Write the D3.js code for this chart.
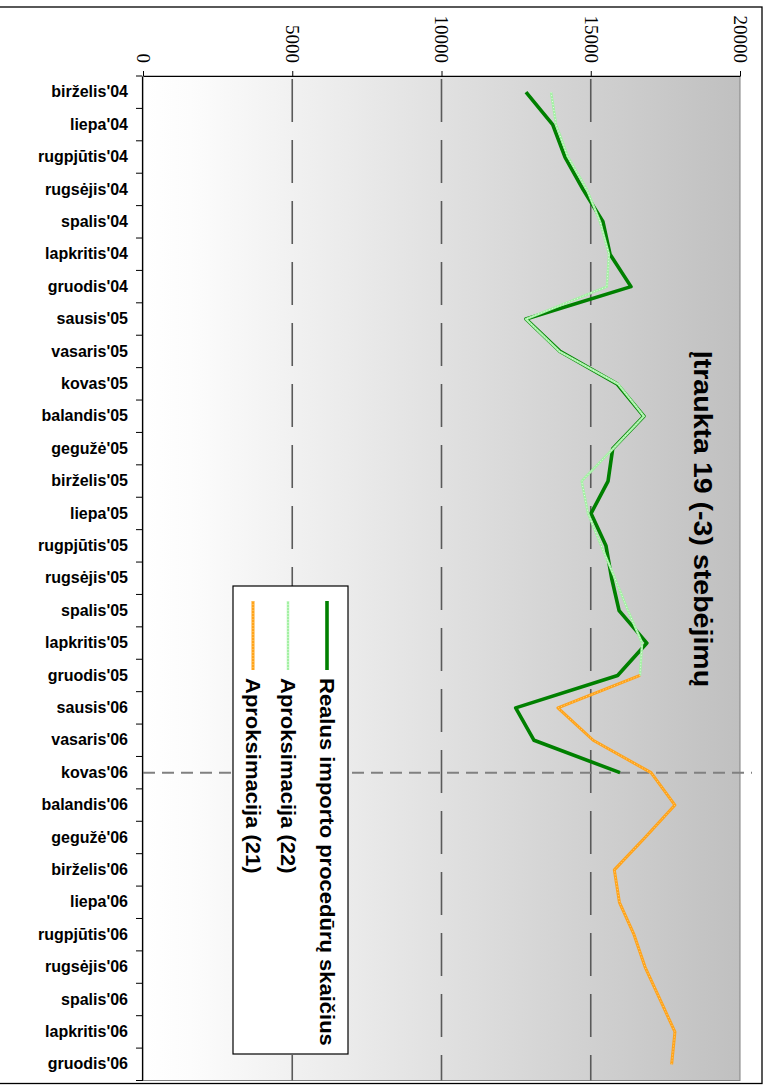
<!DOCTYPE html>
<html>
<head>
<meta charset="utf-8">
<script src="https://cdn.jsdelivr.net/npm/d3@7"></script>
<style>
  html, body { margin: 0; padding: 0; background: #ffffff; }
  svg { display: block; }
</style>
</head>
<body>
<script>
// Monthly categories
const categories = [
  "birželis'04", "liepa'04", "rugpjūtis'04", "rugsėjis'04", "spalis'04", "lapkritis'04", "gruodis'04",
  "sausis'05", "vasaris'05", "kovas'05", "balandis'05", "gegužė'05", "birželis'05", "liepa'05",
  "rugpjūtis'05", "rugsėjis'05", "spalis'05", "lapkritis'05", "gruodis'05",
  "sausis'06", "vasaris'06", "kovas'06", "balandis'06", "gegužė'06", "birželis'06", "liepa'06",
  "rugpjūtis'06", "rugsėjis'06", "spalis'06", "lapkritis'06", "gruodis'06"
];

// Actual number of import procedures (birželis'04 .. kovas'06)
const realValues = [
  12830, 13725, 14137, 14740, 15410, 15645, 16348,
  12830, 13970, 15880, 16780, 15735, 15580, 15010,
  15510, 15700, 15950, 16880, 15900,
  12485, 13100, 15980
];

// Approximation (22) (birželis'04 .. gruodis'05)
const approx22Values = [
  13670, 13840, 14240, 14870, 15310, 15610, 15540,
  12830, 13950, 15910, 16780, 15750, 14695, 14910,
  15350, 15810, 16250, 16720, 16650
];

// Approximation (21) (gruodis'05 .. gruodis'06)
const approx21Start = 18;
const approx21Values = [
  16650, 13900, 15080, 17020, 17820, 16820, 15790,
  15960, 16450, 16820, 17320, 17820, 17710
];

const valueTicks = [0, 5000, 10000, 15000, 20000];
const gridValues = [5000, 10000, 15000];
const markerCategory = "kovas'06";

const titleText = "Įtraukta 19 (-3) stebėjimų";
const legendLabels = ["Realus importo procedūrų skaičius", "Aproksimacija  (22)", "Aproksimacija  (21)"];

const W = 769, H = 1087;
const plot = { left: 143, right: 740, top: 76, bottom: 1080.5 };

const svg = d3.select("body").append("svg")
  .attr("width", W).attr("height", H)
  .attr("viewBox", `0 0 ${W} ${H}`);

const x = d3.scaleLinear().domain([0, 20000]).range([plot.left, plot.right]);
const y = d3.scaleBand().domain(categories).range([plot.top, plot.bottom]).padding(0);
const cy = c => y(c) + y.bandwidth() / 2;

// Outer frame
svg.append("rect")
  .attr("x", -1).attr("y", 7).attr("width", 763).attr("height", 1076.5)
  .attr("fill", "#ffffff").attr("stroke", "#000000").attr("stroke-width", 1.3);

// Plot background gradient
const defs = svg.append("defs");
const grad = defs.append("linearGradient")
  .attr("id", "plotBg").attr("x1", "0%").attr("x2", "100%").attr("y1", "0%").attr("y2", "0%");
grad.append("stop").attr("offset", "0%").attr("stop-color", "#ffffff");
grad.append("stop").attr("offset", "8%").attr("stop-color", "#fcfcfc");
grad.append("stop").attr("offset", "100%").attr("stop-color", "#c0c0c0");

svg.append("rect")
  .attr("x", plot.left).attr("y", plot.top)
  .attr("width", plot.right - plot.left).attr("height", plot.bottom - plot.top)
  .attr("fill", "url(#plotBg)")
  .attr("stroke", "#808080").attr("stroke-width", 1);

// Dashed vertical gridlines
svg.append("g").selectAll("line").data(gridValues).join("line")
  .attr("x1", d => x(d)).attr("x2", d => x(d))
  .attr("y1", plot.top).attr("y2", plot.bottom)
  .attr("stroke", "#5a5a5a").attr("stroke-width", 1.6)
  .attr("stroke-dasharray", "43,18").attr("stroke-dashoffset", -3);

// Marker line at the last observed month
svg.append("line")
  .attr("x1", plot.left).attr("x2", 752)
  .attr("y1", cy(markerCategory)).attr("y2", cy(markerCategory))
  .attr("stroke", "#808080").attr("stroke-width", 2)
  .attr("stroke-dasharray", "12,7");

// Series
const line = d3.line()
  .defined(d => d.v != null)
  .x(d => x(d.v)).y(d => cy(d.c));

const realData = realValues.map((v, i) => ({ c: categories[i], v }));
const a22Data = approx22Values.map((v, i) => ({ c: categories[i], v }));
const a21Data = approx21Values.map((v, i) => ({ c: categories[approx21Start + i], v }));

svg.append("path").datum(realData)
  .attr("d", line).attr("fill", "none")
  .attr("stroke", "#008000").attr("stroke-width", 3.6)
  .attr("stroke-linejoin", "round");

svg.append("path").datum(a22Data)
  .attr("d", line).attr("fill", "none")
  .attr("stroke", "#a3f0a3").attr("stroke-width", 2.4)
  .attr("stroke-linejoin", "round");
svg.append("path").datum(a22Data)
  .attr("d", line).attr("fill", "none")
  .attr("stroke", "#e6ffe6").attr("stroke-width", 1)
  .attr("stroke-dasharray", "1,2");

svg.append("path").datum(a21Data)
  .attr("d", line).attr("fill", "none")
  .attr("stroke", "#ffa31a").attr("stroke-width", 3)
  .attr("stroke-linejoin", "round");
svg.append("path").datum(a21Data)
  .attr("d", line).attr("fill", "none")
  .attr("stroke", "#ffd37f").attr("stroke-width", 1)
  .attr("stroke-dasharray", "1,2");

// Value axis on top, labels turned to read downward
const topAxis = svg.append("g")
  .attr("transform", `translate(0,${plot.top})`)
  .call(d3.axisTop(x).tickValues(valueTicks).tickSize(5).tickSizeOuter(0).tickFormat(d3.format("d")));
topAxis.select(".domain").attr("stroke", "#000000").attr("stroke-width", 1.2);
topAxis.selectAll(".tick line").attr("stroke", "#000000");
topAxis.selectAll(".tick text")
  .attr("y", null).attr("dy", "0.35em")
  .attr("transform", "translate(0,-13) rotate(90)")
  .attr("text-anchor", "end")
  .attr("fill", "#000000")
  .style("font-family", "'Liberation Serif', 'Times New Roman', serif")
  .style("font-size", "19px");

// Category axis on the left
const leftAxis = svg.append("g")
  .attr("transform", `translate(${plot.left - 1},0)`)
  .call(d3.axisLeft(y).tickSize(0).tickPadding(14).tickSizeOuter(0));
leftAxis.select(".domain").attr("stroke", "#000000").attr("stroke-width", 1.2);
leftAxis.selectAll(".tick text")
  .attr("fill", "#000000")
  .style("font-family", "'Liberation Sans', Arial, sans-serif")
  .style("font-weight", "bold")
  .style("font-size", "16px");

// Tick marks between categories
const boundaries = categories.map(c => y(c)).concat([plot.bottom]);
leftAxis.append("g").selectAll("line").data(boundaries).join("line")
  .attr("x1", -6).attr("x2", 0)
  .attr("y1", d => d).attr("y2", d => d)
  .attr("stroke", "#000000").attr("stroke-width", 1);

// Title
svg.append("text")
  .attr("transform", `translate(703,519) rotate(90) scale(1.12,1)`)
  .attr("text-anchor", "middle").attr("dy", "0.35em")
  .style("font-family", "'Liberation Sans', Arial, sans-serif")
  .style("font-weight", "bold").style("font-size", "25.5px")
  .attr("fill", "#000000")
  .text(titleText);

// Legend
const legend = svg.append("g");
legend.append("rect")
  .attr("x", 233).attr("y", 586).attr("width", 115).attr("height", 468)
  .attr("fill", "#ffffff").attr("stroke", "#000000").attr("stroke-width", 1.2);

const legendItems = [
  { label: legendLabels[0], x: 327, stroke: "#008000", width: 3.6, dots: null },
  { label: legendLabels[1], x: 288, stroke: "#a3f0a3", width: 2.4, dots: "#e6ffe6" },
  { label: legendLabels[2], x: 253, stroke: "#ffa31a", width: 3, dots: "#ffd37f" }
];
legendItems.forEach(it => {
  legend.append("line")
    .attr("x1", it.x).attr("x2", it.x).attr("y1", 601).attr("y2", 670)
    .attr("stroke", it.stroke).attr("stroke-width", it.width);
  if (it.dots) {
    legend.append("line")
      .attr("x1", it.x).attr("x2", it.x).attr("y1", 601).attr("y2", 670)
      .attr("stroke", it.dots).attr("stroke-width", 1).attr("stroke-dasharray", "1,2");
  }
  legend.append("text")
    .attr("transform", `translate(${it.x},678) rotate(90) scale(1.1,1)`)
    .attr("text-anchor", "start").attr("dy", "0.35em")
    .style("font-family", "'Liberation Sans', Arial, sans-serif")
    .style("font-weight", "bold").style("font-size", "20px")
    .attr("fill", "#000000")
    .text(it.label);
});
</script>
</body>
</html>
